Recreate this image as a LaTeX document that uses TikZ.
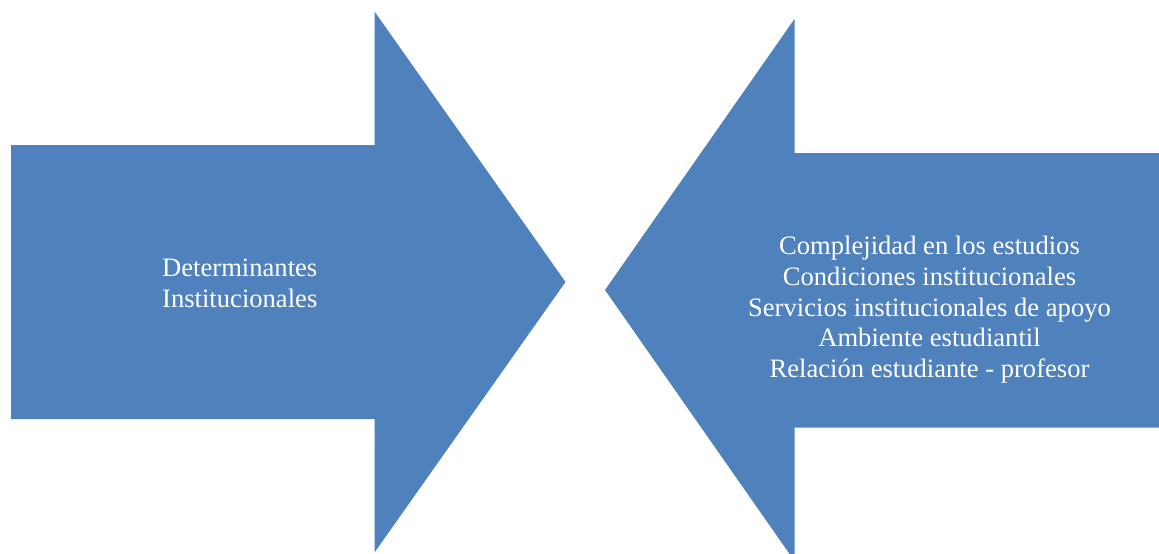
\documentclass[tikz,border=0pt]{standalone}
\usepackage{fontspec}
\setmainfont{Liberation Serif}
\definecolor{arrowblue}{HTML}{4F81BD}
\begin{document}
\begin{tikzpicture}[x=1pt,y=-1pt,
  arrowshape/.style={fill=arrowblue,draw=none},
  label/.style={text=white,inner sep=0pt,font=\fontsize{26.6}{30.7}\selectfont}]
\useasboundingbox (0,0) rectangle (1159,554);
% left arrow
\fill[arrowshape] (11,145) -- (374.5,145) -- (374.5,11.5) -- (565.5,282)
  -- (374.5,552.5) -- (374.5,419) -- (11,419) -- cycle;
% right arrow
\begin{scope}
\clip (0,0) rectangle (1159,554);
\fill[arrowshape] (1159,153) -- (794.5,153) -- (794.5,19) -- (605,290)
  -- (794.5,561) -- (794.5,427.5) -- (1159,427.5) -- cycle;
\end{scope}
\node[label,align=left,anchor=north west] (left) at (162,259)
  {Determinantes\\Institucionales};
\node[label,align=center,anchor=north] (right) at (929.5,236)
  {Complejidad en los estudios\\Condiciones institucionales\\Servicios institucionales de apoyo\\Ambiente estudiantil\\Relación estudiante - profesor};
\end{tikzpicture}
\end{document}
